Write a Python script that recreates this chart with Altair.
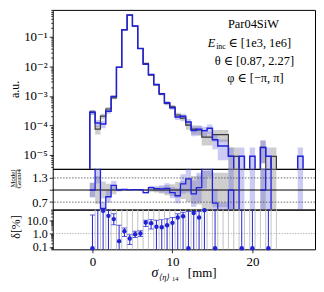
import numpy as np
import pandas as pd
import altair as alt

# ---------------- values ----------------
EDGE0 = -1.0 / 3.0      # left edge of the first bin [mm]
BIN_W = 2.0 / 3.0       # bin width [mm]
ONE_EVENT = 9e-6        # a.u. height of a single-event bin (Poisson unit)

model = [2.8e-4, 1.2e-4, 1.12e-4, 3.0e-4, 9.6e-4, 9.325e-3, 0.1725, 0.5423, 0.2321, 0.0404,
         0.0118, 5.3e-3, 2.43e-3, 1.175e-3, 5.8e-4, 4.0e-4, 1.93e-4, 2.05e-4, 1.3e-4, 6.8e-5,
         7.4e-5, 6.6e-5, 8.0e-5, 3.3e-5, 2.0e-5, 2.0e-5, 9e-6, 0, 9e-6, 0,
         9e-6, 0, 1.8e-5, 9e-6, 0, 0, 0, 0, 0, 9e-6]
geant4 = [2.8e-4, 7.5e-5, 2.05e-4, 3.6e-4, 8.6e-4, 9.3e-3, 0.17, 0.54, 0.23, 0.04,
          0.0126, 5.0e-3, 2.35e-3, 1.14e-3, 5.57e-4, 4.27e-4, 2.25e-4, 1.78e-4, 1.02e-4, 7.5e-5,
          7.0e-5, 4.0e-5, 4.0e-5, 4.9e-5, 4.9e-5, 4.9e-5, 9e-6, 9e-6, 0, 0,
          0, 0, 1.8e-5, 0, 9e-6, 0, 0, 0, 0, 0]

# delta [%] per bin, with error bar ends (None = no point / bar runs out of the panel)
delta = [0.08, 80, 50, 21, 12, 0.27, 1.5, 0.42, 0.9, 1.0,
         6.7, 6.0, 3.2, 3.0, 4.2, 6.3, 16, 20, 0.08, 35,
         16, 55, None, 0.08, None, None, None, None, 0.08, None,
         0.08, None, None, 0.08, None, None, None, None, None, None]
delta_lo = [None, None, None, None, 4.5, None, 0.6, 0.15, 0.5, 0.6,
            3.3, 2.2, None, None, None, None, None, None, None, None,
            None, None, None, None, None, None, None, None, None, None,
            None, None, None, None, None, None, None, None, None, None]
delta_hi = [24, None, None, 58, 30, 4.2, 2.6, 0.8, 1.5, 1.6,
            10, 11, 10, 11, 13, 16, 30, 40, 45, 45,
            45, None, None, None, None, None, None, None, None, None,
            None, None, None, None, None, None, None, None, None, None]
grey_guides = list(range(1, 36))          # bin-edge indices of grey guide lines (delta panel)

x_ticks = [0, 10, 20]
ratio_ticks = [0.7, 1.0, 1.3]
ratio_guides = [0.7, 1.3]
info_lines = ["Par04SiW", "∈ [1e3, 1e6]", "θ ∈ [0.87, 2.27]", "φ ∈ [−π, π]"]

# ---------------- styling ----------------
SERIF = "Liberation Serif, DejaVu Serif, serif"
BLUE = "#2121d9"
DARK = "#3a3a3a"
W = 264
H_TOP, H_RAT, H_DEL = 160, 41, 40

XS = alt.Scale(domain=[-4.97, 27.83], nice=False, zero=False)
YS_TOP = alt.Scale(type="log", domain=[3.4e-6, 0.81], nice=False)
YS_RAT = alt.Scale(domain=[0.515, 1.525], nice=False, zero=False)
YS_DEL = alt.Scale(type="log", domain=[0.066, 62], nice=False)

MAJOR = "abs(log(datum.value)/LN10 - round(log(datum.value)/LN10)) < 0.001"
top_ticks = sorted({round(m * 10.0 ** e, 12) for e in range(-6, 0) for m in range(1, 10)
                    if 3.4e-6 <= m * 10.0 ** e <= 0.81})
del_ticks = sorted({round(m * 10.0 ** e, 12) for e in range(-2, 2) for m in range(1, 10)
                    if 0.066 <= m * 10.0 ** e <= 62})


def log_axis(values, label_expr, size):
    return alt.Axis(values=values, title=None, labelOverlap=False, labelPadding=2,
                    labelExpr=label_expr,
                    labelFontSize={"condition": {"test": MAJOR, "value": size}, "value": 0},
                    tickSize={"condition": {"test": MAJOR, "value": 3.5}, "value": 2})


AX_Y_TOP = log_axis(top_ticks,
                    MAJOR + " ? '10⁻' + ['⁰','¹','²','³','⁴','⁵','⁶'][round(-log(datum.value)/LN10)] : ''",
                    13)
AX_Y_DEL = log_axis(del_ticks, MAJOR + " ? format(datum.value, '.1f') : ''", 12)
AX_Y_RAT = alt.Axis(values=ratio_ticks, format=".1f", title=None, tickSize=3.5, labelPadding=2,
                    labelFontSize=12.5)
AX_X_IN = alt.Axis(values=x_ticks, labels=False, ticks=False, title=None)
AX_X_BOT = alt.Axis(values=x_ticks, format="d", title=None, tickSize=3.5, labelPadding=3)

# ---------------- derived tables ----------------
n = len(model)
edges = EDGE0 + BIN_W * np.arange(n + 1)
M = np.array(model, dtype=float)
G = np.array(geant4, dtype=float)
sM = np.sqrt(M * ONE_EVENT)
sG = np.sqrt(G * ONE_EVENT)
FLOOR = 1e-9
BIG = 1e3

bins = pd.DataFrame({"x0": edges[:-1], "x1": edges[1:], "M": M, "G": G,
                     "M_lo": np.maximum(M - sM, FLOOR), "M_hi": M + sM,
                     "G_lo": np.maximum(G - sG, FLOOR), "G_hi": G + sG})


def step_rows(vals, name):
    rows = [dict(x=edges[0], y=FLOOR, i=0, s=name)]
    for k, v in enumerate(vals):
        yv = v if v > 0 else FLOOR
        rows.append(dict(x=edges[k], y=yv, i=2 * k + 1, s=name))
        rows.append(dict(x=edges[k + 1], y=yv, i=2 * k + 2, s=name))
    rows.append(dict(x=edges[-1], y=FLOOR, i=2 * n + 1, s=name))
    return pd.DataFrame(rows)


safeG = np.where(G > 0, G, 1.0)
ratio = np.where(G > 0, M / safeG, np.where(M > 0, BIG, np.nan))
r_rows, seg = [], 0
for k in range(n):
    if np.isnan(ratio[k]):
        seg += 1
        continue
    r_rows.append(dict(x=edges[k], y=ratio[k], i=2 * k, seg=seg))
    r_rows.append(dict(x=edges[k + 1], y=ratio[k], i=2 * k + 1, seg=seg))
ratio_line = pd.DataFrame(r_rows)

gband_r = pd.DataFrame({"x0": edges[:-1], "x1": edges[1:],
                        "lo": 1 - sG / safeG, "hi": 1 + sG / safeG})[G > 0]
mb_lo = np.where(G > 0, ratio - sM / safeG, -BIG)
mb_hi = np.where(G > 0, ratio + sM / safeG, BIG)
mband_r = pd.DataFrame({"x0": edges[:-1], "x1": edges[1:], "lo": mb_lo, "hi": mb_hi})[M > 0]

d_rows = []
for k in range(n):
    if delta[k] is None:
        continue
    d_rows.append(dict(x=0.5 * (edges[k] + edges[k + 1]), d=delta[k],
                       lo=delta_lo[k] if delta_lo[k] is not None else 1e-4,
                       hi=delta_hi[k] if delta_hi[k] is not None else 1e4))
dd = pd.DataFrame(d_rows)
dd_in = dd[(dd.d >= 0.066) & (dd.d <= 62)]
guides = pd.DataFrame({"x": edges[grey_guides]})


def X(f):
    return alt.X(f, type="quantitative", scale=XS, axis=AX_X_IN)


def XB(f):
    return alt.X(f, type="quantitative", scale=XS, axis=AX_X_BOT)


def YT(f):
    return alt.Y(f, type="quantitative", scale=YS_TOP, axis=AX_Y_TOP)


def YR(f):
    return alt.Y(f, type="quantitative", scale=YS_RAT, axis=AX_Y_RAT)


def YD(f):
    return alt.Y(f, type="quantitative", scale=YS_DEL, axis=AX_Y_DEL)


def txt(s, x, y, size, angle=0, align="center", style="normal"):
    return alt.Chart(pd.DataFrame({"t": [s]})).mark_text(
        font=SERIF, fontSize=size, angle=angle, align=align, baseline="alphabetic",
        fontStyle=style, color="black").encode(x=alt.value(x), y=alt.value(y), text="t:N")


# ---------------- top panel ----------------
g_band = alt.Chart(bins[bins.G > 0]).mark_rect(color="#a6a6a6", opacity=0.55, clip=True).encode(
    x=X("x0"), x2="x1", y=YT("G_lo"), y2="G_hi")
m_band = alt.Chart(bins[bins.M > 0]).mark_rect(color="#6b6be0", opacity=0.35, clip=True).encode(
    x=X("x0"), x2="x1", y=YT("M_lo"), y2="M_hi")
g_line = alt.Chart(step_rows(geant4, "G")).mark_line(color=DARK, strokeWidth=1.2, clip=True).encode(
    x=X("x"), y=YT("y"), order="i:Q")
m_line = alt.Chart(step_rows(model, "M")).mark_line(color=BLUE, strokeWidth=1.5, clip=True).encode(
    x=X("x"), y=YT("y"), order="i:Q")
anchor = alt.Chart(pd.DataFrame({"a": [0]})).mark_rule(strokeOpacity=0).encode(
    x=alt.value(-44), y=alt.value(0), y2=alt.value(10))

top = alt.layer(
    g_band, m_band, g_line, m_line, anchor,
    txt("a.u.", -33.5, 80, 12, angle=270),
    txt(info_lines[0], 202, 18, 12.5),
    txt("E", 156, 37, 12.5, align="left", style="italic"),
    txt("inc", 164.5, 39.5, 8, align="left"),
    txt(info_lines[1], 177, 37, 12.5, align="left"),
    txt(info_lines[2], 203, 55, 12.5),
    txt(info_lines[3], 204, 73, 12.5),
).properties(width=W, height=H_TOP)

# ---------------- ratio panel ----------------
gr = alt.Chart(gband_r).mark_rect(color="#a6a6a6", opacity=0.55, clip=True).encode(
    x=X("x0"), x2="x1", y=YR("lo"), y2="hi")
mr = alt.Chart(mband_r).mark_rect(color="#6b6be0", opacity=0.35, clip=True).encode(
    x=X("x0"), x2="x1", y=YR("lo"), y2="hi")
dots = alt.Chart(pd.DataFrame({"y": ratio_guides})).mark_rule(
    color="#444444", strokeWidth=0.8, strokeDash=[1.5, 1.5]).encode(y=YR("y"))
one = alt.Chart(pd.DataFrame({"y": [1.0]})).mark_rule(color="black", strokeWidth=1).encode(y=YR("y"))
rl = alt.Chart(ratio_line).mark_line(color=BLUE, strokeWidth=1.3, clip=True).encode(
    x=X("x"), y=YR("y"), order="i:Q", detail="seg:N")
frac_bar = alt.Chart(pd.DataFrame({"a": [0]})).mark_rule(color="black", strokeWidth=0.6).encode(
    x=alt.value(-36.8), y=alt.value(1), y2=alt.value(19))

rat = alt.layer(
    gr, mr, dots, one, rl, frac_bar,
    txt("Model", -37.6, 10, 6.8, angle=270),
    txt("Geant4", -31.6, 10, 6.8, angle=270),
).properties(width=W, height=H_RAT)

# ---------------- delta panel ----------------
gl = alt.Chart(guides).mark_rule(color="#c4c4c4", strokeWidth=1).encode(x=XB("x"))
d1 = alt.Chart(pd.DataFrame({"y": [1.0]})).mark_rule(
    color="#999999", strokeWidth=0.8, strokeDash=[1.2, 1.5]).encode(y=YD("y"))
eb = alt.Chart(dd).mark_rule(color=BLUE, strokeWidth=1, clip=True).encode(
    x=XB("x"), y=YD("lo"), y2="hi")
cap_hi = alt.Chart(dd).mark_tick(color=BLUE, orient="horizontal", size=5, thickness=1, clip=True).encode(
    x=XB("x"), y=YD("hi"))
cap_lo = alt.Chart(dd).mark_tick(color=BLUE, orient="horizontal", size=5, thickness=1, clip=True).encode(
    x=XB("x"), y=YD("lo"))
pts = alt.Chart(dd_in).mark_circle(color=BLUE, size=20, opacity=1).encode(
    x=XB("x"), y=YD("d"))

dl = alt.layer(
    gl, d1, eb, cap_hi, cap_lo, pts,
    txt("δ[%]", -33, 17.5, 12, angle=270),
    txt("σ", 99.5, 68, 14, align="left", style="italic"),
    txt("⟨η⟩", 107, 70.5, 8.5, align="left", style="italic"),
    txt("14", 120, 71.5, 6.5, align="left"),
    txt("[mm]", 136, 68, 13, align="left"),
).properties(width=W, height=H_DEL)

chart = alt.vconcat(top, rat, dl, spacing=0, bounds="flush",
                    padding={"left": 0, "top": 0, "right": 0, "bottom": 0}).configure_view(
    stroke="black", strokeWidth=1).configure_axis(
    labelFont=SERIF, labelFontSize=13, labelColor="black", tickColor="black",
    tickWidth=0.8, domain=False, grid=False)

chart.save("out.html", embed_options={"renderer": "svg", "actions": False})
